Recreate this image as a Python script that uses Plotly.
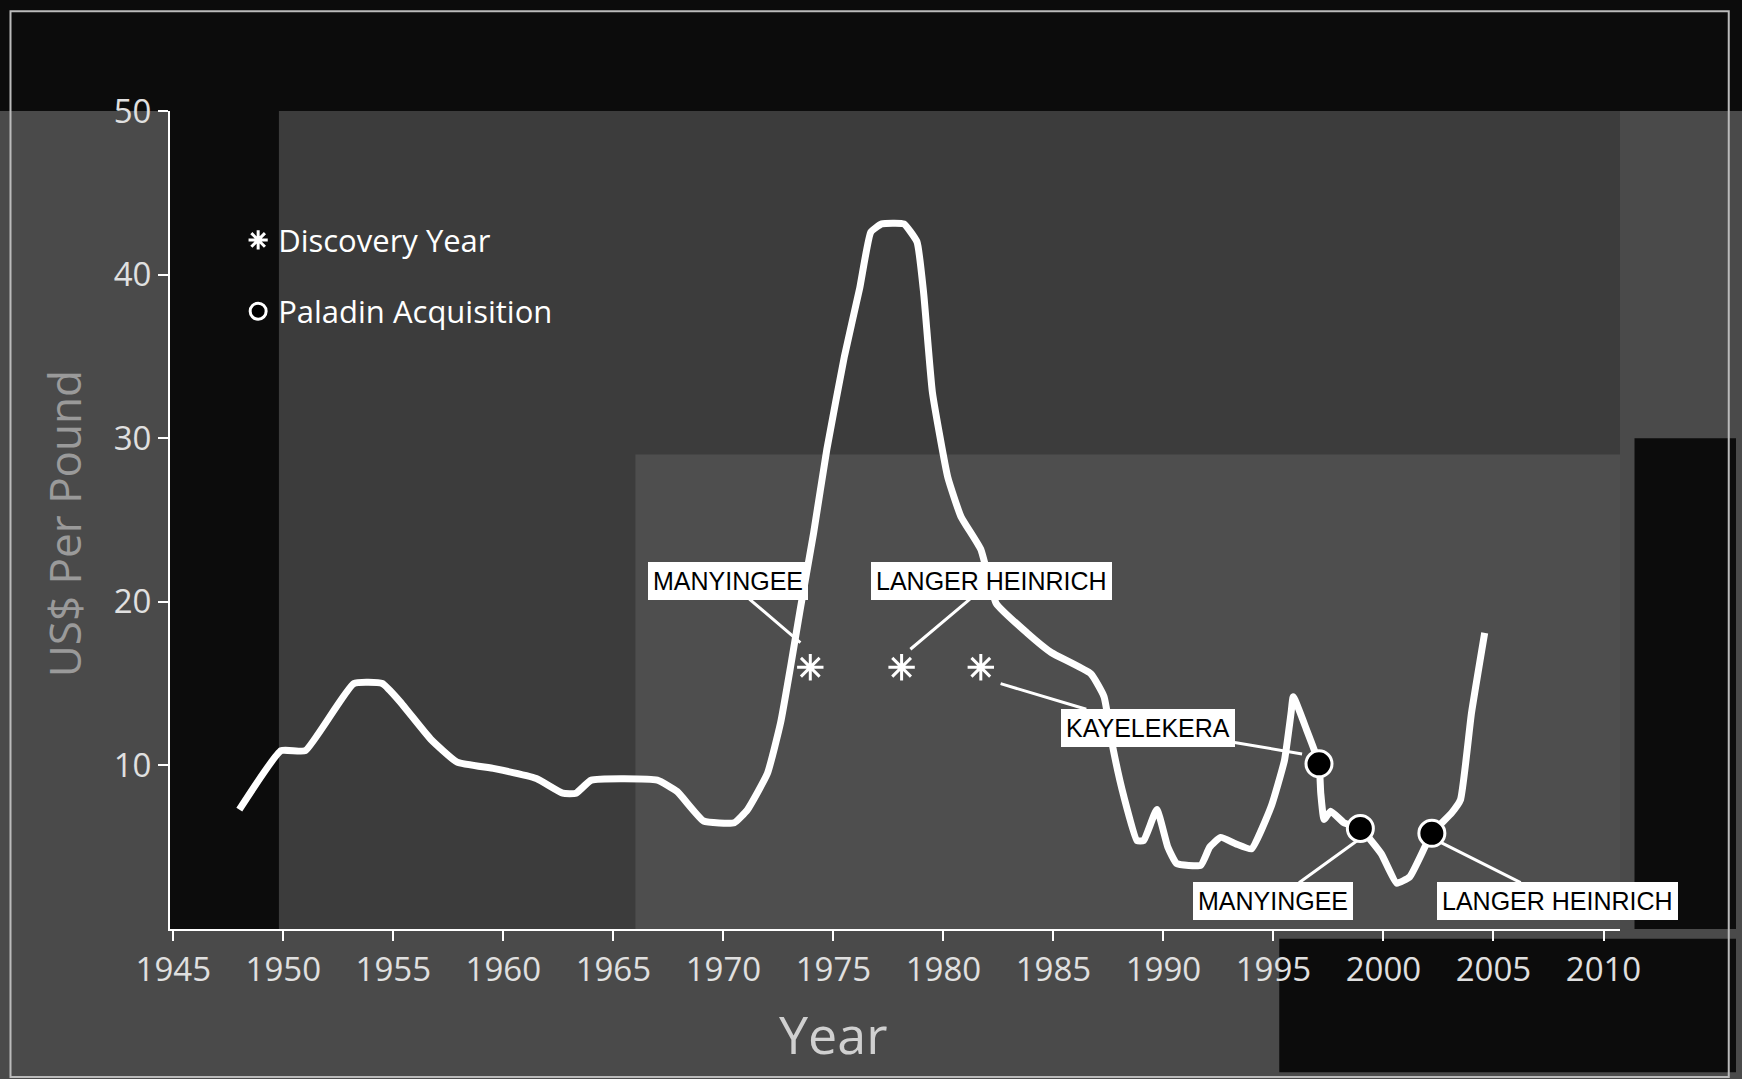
import plotly.graph_objects as go

# ---- data ----
years = [1948.0, 1949.9, 1951.0, 1953.2, 1954.5, 1955.3, 1956.7, 1957.9, 1959.6, 1961.5,
         1962.7, 1963.3, 1964.0, 1967.0, 1967.9, 1969.1, 1970.5, 1971.1, 1972.0, 1972.6,
         1973.05, 1973.5, 1974.1, 1974.7, 1975.5, 1976.2, 1976.7, 1977.2, 1978.2, 1978.8,
         1979.1, 1979.5, 1980.2, 1980.8, 1981.7, 1982.4, 1983.8, 1984.9, 1986.7, 1987.3,
         1987.7, 1988.2, 1988.8, 1989.1, 1989.7, 1990.2, 1990.6, 1991.7, 1992.1, 1992.6,
         1993.3, 1994.0, 1994.9, 1995.5, 1995.8, 1995.9, 1996.5, 1997.07, 1997.15, 1997.3,
         1997.6, 1998.2, 1998.95, 1999.9, 2000.6, 2001.2, 2002.2, 2003.1, 2003.5, 2004.0,
         2004.6]
price = [7.3, 10.9, 10.9, 15.0, 15.0, 13.9, 11.6, 10.2, 9.8, 9.2,
         8.3, 8.3, 9.1, 9.1, 8.4, 6.6, 6.5, 7.3, 9.5, 12.6,
         16.0, 19.6, 24.2, 29.3, 35.0, 39.2, 42.6, 43.1, 43.1, 42.0,
         38.9, 32.8, 27.6, 25.2, 23.2, 19.9, 18.1, 16.9, 15.6, 14.2,
         11.1, 8.1, 5.4, 5.4, 7.3, 5.0, 4.0, 3.9, 5.0, 5.6,
         5.2, 4.9, 7.5, 10.3, 13.2, 14.2, 12.2, 10.1, 8.3, 6.7,
         7.2, 6.5, 6.15, 4.6, 2.8, 3.2, 5.85, 7.1, 7.9, 13.2,
         18.1]

discovery_years = [1973.95, 1978.1, 1981.7]
discovery_vals = [16.0, 16.0, 16.0]

acq_years = [1997.07, 1998.95, 2002.2]
acq_vals = [10.1, 6.15, 5.85]

x_ticks = [1945, 1950, 1955, 1960, 1965, 1970, 1975, 1980, 1985, 1990, 1995, 2000, 2005, 2010]
y_ticks = [10, 20, 30, 40, 50]

# callouts: label, target (x, y), box centre (x, y)
callout_labels = ["MANYINGEE", "LANGER HEINRICH", "KAYELEKERA", "KAYELEKERA", "MANYINGEE", "LANGER HEINRICH"]
callout_tx = [1973.5, 1978.5, 1982.6, 1996.3, 1998.8, 2002.6]
callout_ty = [17.5, 17.1, 15.0, 10.7, 5.4, 5.3]
callout_bx = [1970.2, 1982.2, 1989.3, 1989.3, 1995.0, 2007.9]
callout_by = [21.3, 21.3, 12.3, 12.3, 1.7, 1.7]

FONT = "Open Sans, Noto Sans, sans-serif"

fig = go.Figure()

fig.add_trace(go.Scatter(
    x=years, y=price, mode="lines",
    line=dict(color="white", width=7, shape="spline", smoothing=0.4),
    showlegend=False, hoverinfo="skip"))

fig.add_trace(go.Scatter(
    x=discovery_years, y=discovery_vals, mode="markers", name="Discovery Year",
    legendgroup="a",
    marker=dict(symbol="asterisk-open", size=22, color="white",
                line=dict(color="white", width=3))))

fig.add_trace(go.Scatter(
    x=acq_years, y=acq_vals, mode="markers", name="Paladin Acquisition",
    legendgroup="b",
    marker=dict(symbol="circle", size=26, color="black",
                line=dict(color="white", width=3))))

for lab, tx, ty, bx, by in zip(callout_labels, callout_tx, callout_ty, callout_bx, callout_by):
    fig.add_annotation(
        x=tx, y=ty, ax=bx, ay=by, axref="x", ayref="y", xref="x", yref="y",
        text=lab, showarrow=True, arrowhead=0, arrowwidth=3, arrowcolor="white",
        font=dict(family="Liberation Sans, Arial, sans-serif", size=25, color="black"),
        bgcolor="white", bordercolor="white", borderwidth=1, borderpad=4)

# background decoration
shapes = [
    dict(type="rect", xref="paper", yref="paper", x0=-0.2, x1=1.2, y0=1.0, y1=1.2,
         fillcolor="#0c0c0c", line=dict(width=0), layer="below"),
    dict(type="rect", xref="x", yref="y", x0=1944.85, x1=1949.8, y0=0, y1=50,
         fillcolor="#0c0c0c", line=dict(width=0), layer="below"),
    dict(type="rect", xref="x", yref="y", x0=1966, x1=2010.75, y0=0, y1=29,
         fillcolor="#4e4e4e", line=dict(width=0), layer="below"),
    dict(type="rect", xref="paper", yref="paper", x0=1.01, x1=1.08, y0=0, y1=0.6,
         fillcolor="#0c0c0c", line=dict(width=0), layer="below"),
    dict(type="rect", xref="paper", yref="paper", x0=0.765, x1=1.08, y0=-0.175, y1=-0.012,
         fillcolor="#0c0c0c", line=dict(width=0), layer="below"),
    dict(type="rect", xref="paper", yref="paper", x0=-0.110, x1=1.075, y0=-0.181, y1=1.122,
         fillcolor="rgba(0,0,0,0)", line=dict(color="#bbbbbb", width=2), layer="above"),
]

fig.add_annotation(text="Year", xref="paper", yref="paper", x=0.457, y=-0.128,
                   showarrow=False, xanchor="center", yanchor="middle",
                   font=dict(family=FONT, size=52, color="#d0d0d0"))
fig.add_annotation(text="US$ Per Pound", xref="paper", yref="paper", x=-0.073, y=0.495,
                   showarrow=False, textangle=-90, xanchor="center", yanchor="middle",
                   font=dict(family=FONT, size=44, color="#9a9a9a"))

fig.update_layout(
    width=1742, height=1079,
    margin=dict(l=170, r=122, t=111, b=150),
    paper_bgcolor="#4a4a4a", plot_bgcolor="#3c3c3c",
    shapes=shapes,
    showlegend=True,
    legend=dict(x=0.047, y=0.875, xanchor="left", yanchor="top",
                bgcolor="rgba(0,0,0,0)", traceorder="grouped", tracegroupgap=28,
                font=dict(family=FONT, size=31, color="white")),
    xaxis=dict(range=[1944.85, 2010.75], tickvals=x_ticks, ticks="outside", ticklen=10,
               tickwidth=2, tickcolor="white", showline=True, linecolor="white", linewidth=2,
               showgrid=False, zeroline=False,
               tickfont=dict(family=FONT, size=33, color="#e0e0e0")),
    yaxis=dict(range=[0, 50], tickvals=y_ticks, ticks="outside", ticklen=10,
               tickwidth=2, tickcolor="white", showline=True, linecolor="white", linewidth=2,
               showgrid=False, zeroline=False,
               tickfont=dict(family=FONT, size=33, color="#e0e0e0")),
)

fig.write_html("out.html", config={"displayModeBar": False},
               post_script="document.body.style.margin='0';document.body.style.overflow='hidden';")
